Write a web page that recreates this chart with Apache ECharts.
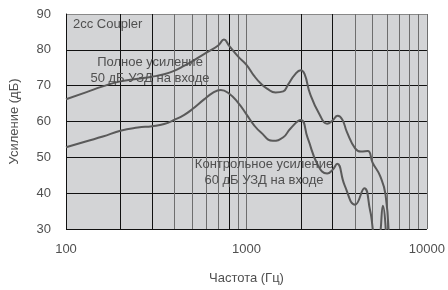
<!DOCTYPE html>
<html>
<head>
<meta charset="utf-8">
<script src="https://cdn.jsdelivr.net/npm/echarts@6/dist/echarts.min.js"></script>
<style>
  html, body { margin: 0; padding: 0; background: #fff; }
  #chart { width: 448px; height: 290px; }
</style>
</head>
<body>
<div id="chart"></div>
<script>
// Полное усиление, 50 дБ УЗД на входе
const fullGain = [
  [100, 66.2], [130, 68.2], [160, 69.8], [200, 71.2], [250, 71.9], [300, 72.5],
  [350, 73.2], [400, 74.2], [450, 75.5], [500, 76.8], [600, 79.2], [700, 81.3],
  [750, 82.9], [800, 81.2], [900, 78.1], [1000, 75.8], [1100, 72.8], [1200, 70.6],
  [1300, 69.2], [1450, 68.1], [1600, 68.4], [1700, 70.3], [1850, 73], [2000, 74.3],
  [2100, 73.2], [2250, 67.8], [2550, 61.8], [2800, 59.4], [3000, 60.3], [3200, 61.6],
  [3400, 60.5], [3600, 57.1], [4000, 52.5], [4300, 51.6], [4700, 51.8], [5000, 48.5],
  [5500, 44.8], [5900, 39.5], [6150, 27]
];
// Контрольное усиление, 60 дБ УЗД на входе
const refGain = [
  [100, 52.8], [130, 54.5], [160, 55.8], [200, 57.4], [250, 58.3], [300, 58.7],
  [350, 59.3], [400, 60.5], [450, 61.8], [500, 63.4], [580, 66.1], [650, 68],
  [720, 68.8], [800, 67.8], [900, 65.2], [1000, 62], [1100, 59], [1200, 57],
  [1400, 54.6], [1600, 55.6], [1750, 58], [2000, 60.4], [2180, 55.5], [2500, 47.6],
  [2800, 45.5], [3000, 46.5], [3180, 48.2], [3500, 42.2], [4000, 36.8], [4500, 41.4],
  [4850, 35], [5200, 28], [5400, 28], [5700, 36.5], [5950, 27]
];
const gridFreqs = [200, 300, 400, 500, 600, 700, 800, 900, 1000,
  2000, 3000, 4000, 5000, 6000, 7000, 8000, 9000, 10000];
const darkFreqs = [200, 300, 800, 2000, 3000];
const xTicks = [100, 1000, 10000];

const textStyle = { fill: "#505050", font: "13px 'Liberation Sans', Arial, sans-serif" };

var myChart = echarts.init(document.getElementById("chart"), null, { renderer: "canvas" });

const option = {
  animation: false,
  grid: {
    left: 65, right: 21, top: 14, bottom: 55,
    show: true, backgroundColor: "#d3d4d6", borderWidth: 0
  },
  xAxis: {
    type: "log",
    logBase: 10,
    min: 100,
    max: 10000,
    name: "Частота (Гц)",
    nameLocation: "middle",
    nameGap: 43,
    nameTextStyle: { color: "#505050", fontSize: 13, fontFamily: "Liberation Sans" },
    axisLine: { show: false },
    axisTick: { show: false },
    splitLine: { show: false },
    axisLabel: {
      color: "#505050", fontSize: 13, fontFamily: "Liberation Sans", margin: 14,
      formatter: function (v) { return xTicks.indexOf(Math.round(v)) >= 0 ? String(Math.round(v)) : ""; }
    }
  },
  yAxis: {
    type: "value",
    min: 30,
    max: 90,
    interval: 10,
    name: "Усиление (дБ)",
    nameLocation: "middle",
    nameGap: 45,
    nameTextStyle: { color: "#505050", fontSize: 13, fontFamily: "Liberation Sans" },
    axisLine: { show: true, lineStyle: { color: "#111", width: 1 } },
    axisTick: { show: false },
    axisLabel: { color: "#505050", fontSize: 13, fontFamily: "Liberation Sans", margin: 15 },
    splitLine: { lineStyle: { color: ["#111", "#111", "#111", "#111", "#111", "#111", "#888"], width: 1 } }
  },
  series: [
    {
      type: "line",
      data: fullGain,
      smooth: 0.5,
      showSymbol: false,
      clip: true,
      lineStyle: { color: "#5a5a5a", width: 2 },
      z: 3,
      markLine: {
        silent: true,
        symbol: "none",
        label: { show: false },
        animation: false,
        data: gridFreqs.map(function (f) {
          return {
            xAxis: f,
            lineStyle: {
              type: "solid",
              width: 1,
              color: darkFreqs.indexOf(f) >= 0 ? "#111" : "#6e6e6e"
            }
          };
        }),
        z: 1
      }
    },
    {
      type: "line",
      data: refGain,
      smooth: 0.5,
      showSymbol: false,
      clip: true,
      lineStyle: { color: "#5a5a5a", width: 2 },
      z: 3
    }
  ],
  graphic: {
    elements: [
      { type: "text", left: 73, top: 18, z: 10, style: Object.assign({ text: "2cc Coupler" }, textStyle) },
      { type: "text", x: 150, y: 62, z: 10, style: Object.assign({ text: "Полное усиление", align: "center", verticalAlign: "middle" }, textStyle) },
      { type: "text", x: 150, y: 78, z: 10, style: Object.assign({ text: "50 дБ УЗД на входе", align: "center", verticalAlign: "middle" }, textStyle) },
      { type: "text", x: 264, y: 164, z: 10, style: Object.assign({ text: "Контрольное усиление", align: "center", verticalAlign: "middle" }, textStyle) },
      { type: "text", x: 264, y: 180, z: 10, style: Object.assign({ text: "60 дБ УЗД на входе", align: "center", verticalAlign: "middle" }, textStyle) }
    ]
  }
};
myChart.setOption(option);
</script>
</body>
</html>
